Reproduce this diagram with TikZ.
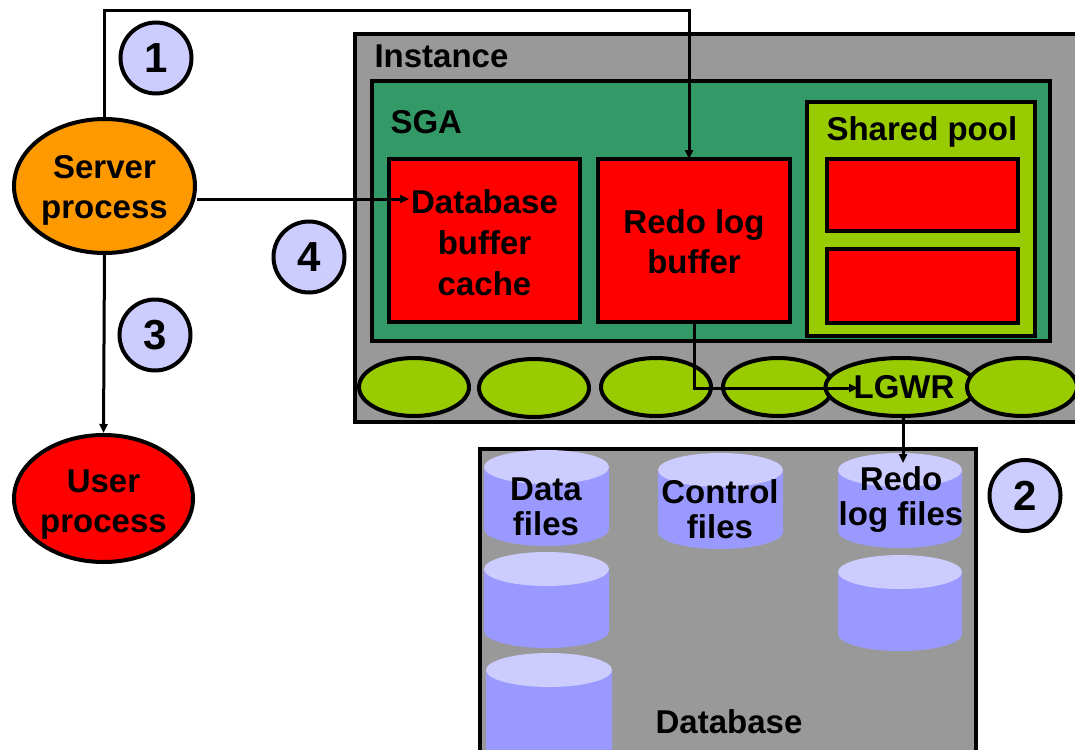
\documentclass[tikz,border=0pt]{standalone}
\usepackage{fontspec}
\setmainfont{Liberation Sans}
\usetikzlibrary{arrows.meta,shapes.geometric}
\definecolor{panelgray}{HTML}{999999}
\definecolor{sgagreen}{HTML}{339966}
\definecolor{memred}{HTML}{FF0000}
\definecolor{poolgreen}{HTML}{99CC00}
\definecolor{procorange}{HTML}{FF9900}
\definecolor{steplav}{HTML}{CCCCFF}
\definecolor{cylbody}{HTML}{9999FF}
\definecolor{cyltop}{HTML}{CCCCFF}
\newcommand\dbcyl[4]{%
  \fill[cylbody] (#1-#4,#2) -- (#1-#4,#3) arc[start angle=180,end angle=0,x radius=#4,y radius=17] -- (#1+#4,#2) -- cycle;
  \fill[cyltop] (#1,#2) ellipse[x radius=#4,y radius=17];
}
\begin{document}
\begin{tikzpicture}[x=1pt,y=-1pt,
  txt/.style={font=\bfseries\fontsize{33}{40}\selectfont},
  panel/.style={draw=black,line width=3.5pt,inner sep=0pt,outer sep=0pt},
  membox/.style={panel,fill=memred,align=center,txt},
  bgproc/.style={ellipse,draw=black,line width=4pt,fill=poolgreen,minimum width=110pt,minimum height=58pt,inner sep=0pt,txt},
  proc/.style={ellipse,draw=black,line width=4pt,inner sep=0pt,align=center,txt},
  stepmark/.style={circle,draw=black,line width=4pt,fill=steplav,minimum size=71pt,inner sep=0pt,font=\bfseries\fontsize{42}{42}\selectfont},
  conn/.style={line width=3pt,-{Triangle[length=9pt,width=8pt]}},
  cyltext/.style={align=center,font=\bfseries\fontsize{33}{35}\selectfont}
]
\useasboundingbox (0,0) rectangle (1075,749);
\clip (0,0) rectangle (1075,749);

% Instance
\node[panel,fill=panelgray,minimum width=745pt,minimum height=388pt] (inst) at (727.5,228) {};
\node[txt,anchor=base west] (instlbl) at (371,68) {Instance};

% SGA
\node[panel,fill=sgagreen,minimum width=678pt,minimum height=260pt] (sga) at (711,211) {};
\node[txt,anchor=base west] (sgalbl) at (387,133) {SGA};

\node[membox,minimum width=191pt,minimum height=163pt] (dbc) at (484.5,240.5) {\rule{0pt}{28pt}Database\\[1pt]buffer\\[1pt]cache};
\node[membox,minimum width=192pt,minimum height=163pt] (redo) at (694,240.5) {\rule{0pt}{27pt}Redo log\\buffer};

\node[panel,fill=poolgreen,minimum width=228pt,minimum height=234pt] (pool) at (921,219) {};
\node[txt,anchor=base west] (poollbl) at (823,140) {Shared pool};
\node[panel,fill=memred,minimum width=191pt,minimum height=72pt] (sp1) at (922.5,195) {};
\node[panel,fill=memred,minimum width=191pt,minimum height=74pt] (sp2) at (922.5,286) {};

% background processes
\node[bgproc] (bg1) at (414,387) {};
\node[bgproc] (bg2) at (534,388) {};
\node[bgproc] (bg3) at (656,387) {};
\node[bgproc] (bg4) at (778,387) {};
\node[bgproc,minimum width=115pt] (lgwr) at (901,387) {\hspace*{6pt}LGWR};
\node[bgproc] (bg6) at (1022,387) {};

% Database
\node[panel,fill=panelgray,minimum width=496pt,minimum height=351pt] (db) at (728,624.5) {};
\dbcyl{546.5}{467}{529}{62.5}
\dbcyl{546.5}{569}{631}{62.5}
\dbcyl{549}{670}{780}{63}
\dbcyl{720.5}{470}{532}{62.5}
\dbcyl{900}{470}{531}{62}
\dbcyl{900}{572}{634}{62}
\node[cyltext] (datafiles) at (546,507) {Data\\files};
\node[cyltext] (ctlfiles) at (720,509) {Control\\files};
\node[cyltext] (redofiles) at (901,500) {Redo\\log files};
\node[txt,anchor=base] (dblbl) at (729,733) {Database};

% processes
\node[proc,fill=procorange,minimum width=181pt,minimum height=134pt] (server) at (104.5,186) {\rule{0pt}{32pt}Server\\process};
\node[proc,fill=memred,minimum width=179pt,minimum height=127pt] (user) at (103.5,498.5) {\rule{0pt}{34pt}User\\process};

% connectors
\coordinate (turn1) at (689,11);
\draw[conn] (server.north) |- (turn1) -- (turn1 |- redo.north);
\coordinate (dbin) at (409,199);
\draw[conn] (server.east |- dbin) -- (dbin);
\draw[conn] (server.south) -- (user.north);
\coordinate (lgin) at (858,388);
\draw[conn] (redo.south) |- (lgin);
\coordinate (rdin) at (903,463);
\draw[conn] (lgwr.south -| rdin) -- (rdin);

% step marks
\node[stepmark] (s1) at (156,58) {1};
\node[stepmark] (s4) at (309,257) {4};
\node[stepmark] (s3) at (155,335) {3};
\node[stepmark] (s2) at (1025,495.5) {2};
\end{tikzpicture}
\end{document}
